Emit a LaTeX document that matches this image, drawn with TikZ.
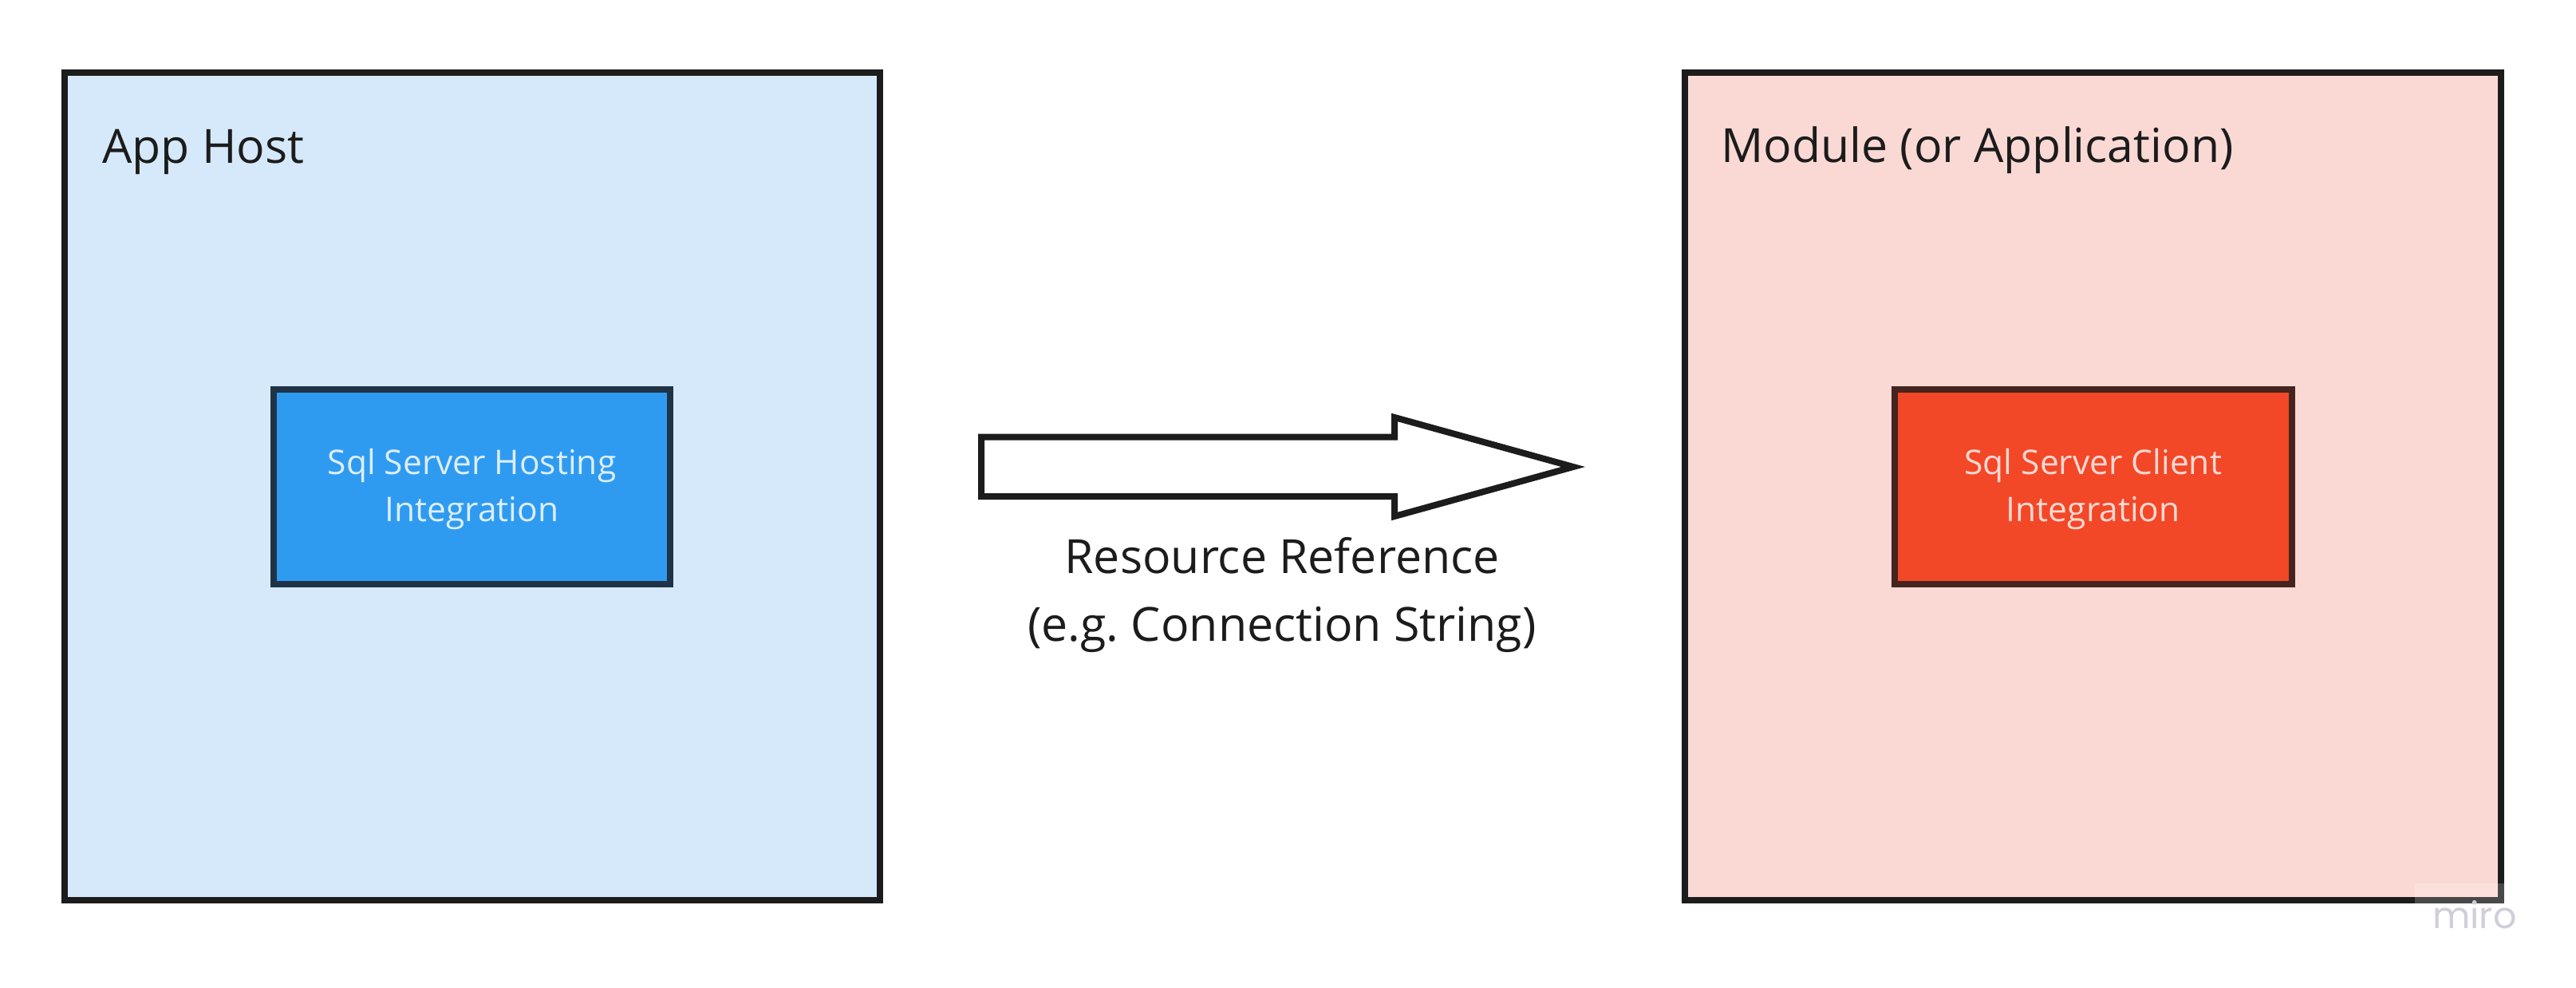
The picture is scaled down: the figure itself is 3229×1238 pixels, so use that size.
\documentclass[tikz,border=0pt]{standalone}
\usepackage{fontspec}
\setmainfont{Open Sans}
\newfontfamily\mirofont{Poppins}
\frenchspacing
\definecolor{hostfill}{HTML}{D6E9FA}
\definecolor{modfill}{HTML}{FAD9D4}
\definecolor{framecol}{HTML}{1C1C1C}
\definecolor{bluefill}{HTML}{2F9BF0}
\definecolor{blueline}{HTML}{1F3347}
\definecolor{bluetext}{HTML}{DCEEFC}
\definecolor{redfill}{HTML}{F24828}
\definecolor{redline}{HTML}{45231E}
\definecolor{redtext}{HTML}{FBD9D2}
\definecolor{mirogray}{HTML}{CFCEDA}
\tikzset{
  container/.style={draw=framecol, line width=8pt, rectangle},
  title/.style={anchor=base west, inner sep=0pt, text=framecol,
    font=\fontsize{59}{72}\selectfont},
  inner/.style={rectangle, line width=8pt, minimum width=497.5pt,
    minimum height=244.5pt, inner sep=0pt},
  innertext/.style={inner sep=0pt, align=center,
    font=\fontsize{42.5}{59}\selectfont},
  blockarrow/.style={draw=framecol, fill=white, line width=8pt, line join=miter},
  reflabel/.style={inner sep=0pt, align=center, text=framecol,
    font=\fontsize{59}{85}\selectfont},
}
\begin{document}
\begin{tikzpicture}[x=1pt, y=-1pt]
\useasboundingbox (0,0) rectangle (3229,1238);
\fill[white] (0,0) rectangle (3229,1238);
% containers
\draw[container, fill=hostfill] (81,91) rectangle (1103,1128);
\coordinate (hostNW) at (81,91);
\draw[container, fill=modfill] (2112,91) rectangle (3135,1128);
\coordinate (modNW) at (2112,91);
\node[title] (hosttitle) at (128,205) {App Host};
\node[title] (modtitle) at (2157,204) {Module (or Application)};
% inner boxes
\node[inner, draw=blueline, fill=bluefill] (hosting) at (591.5,609.75) {};
\node[innertext, text=bluetext, yshift=-3pt] (hostingtxt) at (hosting.center)
  {Sql Server Hosting\\Integration};
\node[inner, draw=redline, fill=redfill] (client) at (2623.75,609.75) {};
\node[innertext, text=redtext, yshift=-3pt] (clienttxt) at (client.center)
  {Sql Server Client\\Integration};
% block arrow
\coordinate (a1) at (1230,547.5);
\coordinate (a2) at (1748,547.5);
\coordinate (a3) at (1748,523);
\coordinate (tip) at (1972,585);
\coordinate (a5) at (1748,647);
\coordinate (a6) at (1748,622);
\coordinate (a7) at (1230,622);
\draw[blockarrow] (a1) -- (a2) -- (a3) -- (tip) -- (a5) -- (a6) -- (a7) -- cycle;
\node[reflabel] (ref) at (1607,746) {Resource Reference\\(e.g. Connection String)};
% watermark
\fill[white, opacity=0.2] (3027,1107) rectangle (3139,1132);
\node[inner sep=0pt, anchor=base west, text=mirogray,
  font=\mirofont\fontsize{46}{50}\selectfont] (miro) at (3049,1163) {miro};
\end{tikzpicture}
\end{document}
